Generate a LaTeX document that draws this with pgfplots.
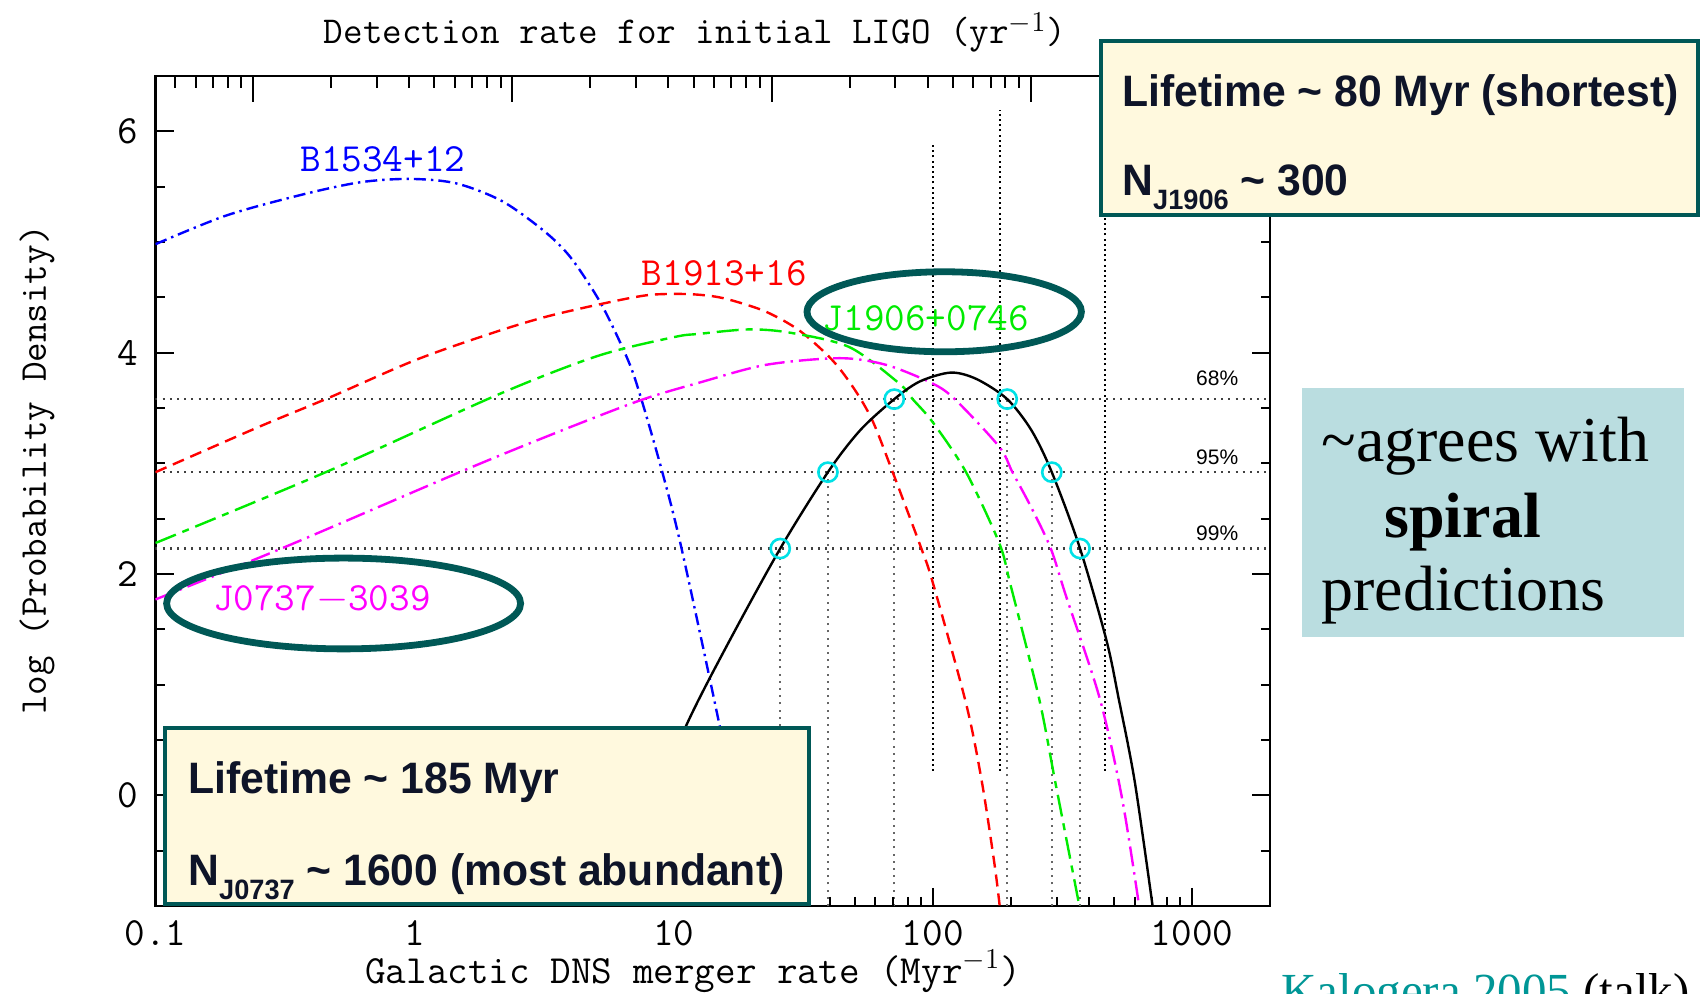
\documentclass[border=0pt]{standalone}
\usepackage{pgfplots}
\pgfplotsset{compat=1.18}
\usepackage{pgfplotstable}
\usepackage{fontspec}
\newfontfamily\arialfont[FakeStretch=0.97]{Liberation Sans}
\newfontfamily\plainsans{Liberation Sans}
\newfontfamily\timesfont{Liberation Serif}

\definecolor{edgeteal}{RGB}{0,88,86}
\definecolor{notebox}{RGB}{255,249,222}
\definecolor{notetext}{RGB}{14,20,40}
\definecolor{agreebox}{RGB}{186,221,224}
\definecolor{ringcyan}{RGB}{0,225,230}
\definecolor{pgreen}{RGB}{0,235,0}
\definecolor{pmag}{RGB}{255,0,255}
\definecolor{citeteal}{RGB}{0,150,150}

% log(probability density) against Galactic merger rate (Myr^-1)
\pgfplotstableread{
x y
0.1 4.98
0.188 5.24
0.371 5.43
0.618 5.54
0.959 5.57
1.445 5.53
2.173 5.37
3.155 5.10
4.0 4.86
5.248 4.44
6.668 3.93
7.499 3.58
9.036 2.92
10.72 2.23
15.0 0.64
16.6 0.07
19.28 -1.0
}\pulsarB

\pgfplotstableread{
x y
0.1 2.92
0.251 3.33
0.4645 3.59
1.0 3.93
1.95 4.17
3.162 4.32
5.248 4.44
7.943 4.52
11.09 4.53
14.13 4.51
16.9 4.47
22.7 4.37
30.55 4.20
41.02 3.93
50.12 3.66
58.61 3.38
69.98 2.92
89.95 2.24
100 1.92
134.3 0.83
154.5 0.125
173.0 -0.625
181.1 -1.0
}\pulsarR

\pgfplotstableread{
x y
0.1 2.28
0.4645 2.93
2.094 3.62
5.082 3.97
10 4.14
12.56 4.17
19.5 4.21
28.18 4.18
47.64 4.05
74.3 3.72
83.56 3.58
100 3.37
134.3 2.92
180.3 2.28
199.5 1.90
257.0 0.875
296.5 0.125
361.4 -0.91
367.3 -1.0
}\pulsarG

\pgfplotstableread{
x y
0.1 1.77
0.3133 2.24
1.528 2.93
3.548 3.28
7.447 3.57
12.59 3.73
22.7 3.89
43.65 3.95
65.92 3.89
100 3.72
122.7 3.57
180.3 3.15
202.8 2.92
239.9 2.60
285.1 2.23
326.6 1.80
440.6 0.875
537.0 -0.025
625.2 -1.0
}\pulsarM

\pgfplotstableread{
x y
5.888 -1.0
7.943 -0.2
11.22 0.64
15.85 1.33
25.76 2.23
39.36 2.92
52.48 3.30
70.96 3.58
89.13 3.74
117.5 3.82
147.9 3.76
193.6 3.58
239.9 3.30
287.7 2.92
369.8 2.23
467.7 1.40
521.2 0.875
601.2 0.125
704.7 -1.0
}\combined

\newcommand\pgfont{\ttfamily\fontsize{20}{20}\selectfont}

% common frame geometry
\pgfplotsset{frame/.style={
  at={(77.75pt,44pt)}, anchor=south west,
  width=557.25pt, height=415pt, scale only axis,
  ymin=-1, ymax=6.5,
  tick align=inside,
  every tick/.style={black, line width=1pt},
  axis line style={line width=1.2pt}}}

\begin{document}
\begin{tikzpicture}
\useasboundingbox (0,0) rectangle (852.5pt,497pt);

% frame with the merger-rate decades (in log10 units) and the density scale
\begin{axis}[frame,
  xmin=-1, xmax=3.30103,
  xtick={-1,0,1,2,3},
  xticklabels={0.1,1,10,100,1000},
  ytick={0,2,4,6}, yticklabels={0,2,4,6},
  minor ytick={-0.5,0.5,1,1.5,2.5,3,3.5,4.5,5,5.5},
  xtick pos=left, ytick pos=both, yticklabel pos=left,
  major tick length=9pt, minor tick length=4.5pt,
  ticklabel style={font=\pgfont},
  xticklabel style={yshift=-4pt},
  yticklabel style={xshift=-5pt},
]
\addplot[draw=none] coordinates {(0,0) (1,1)};
\end{axis}

\begin{axis}[frame,
  xmode=log, xmin=0.1, xmax=2000,
  xtick=\empty, ytick=\empty,
  clip marker paths=true,
]
% confidence levels
\addplot[black!75, line width=1.1pt, dash pattern=on 1pt off 2.6pt] coordinates {(0.1,3.58) (2000,3.58)};
\addplot[black!75, line width=1.1pt, dash pattern=on 1pt off 2.6pt] coordinates {(0.1,2.92) (2000,2.92)};
\addplot[black!75, line width=1.1pt, dash pattern=on 1pt off 2.6pt] coordinates {(0.1,2.23) (2000,2.23)};
\addplot[black!60, line width=1pt, dash pattern=on 1pt off 2.6pt] coordinates {(25.76,-1) (25.76,2.23)};
\addplot[black!60, line width=1pt, dash pattern=on 1pt off 2.6pt] coordinates {(39.36,-1) (39.36,2.92)};
\addplot[black!60, line width=1pt, dash pattern=on 1pt off 2.6pt] coordinates {(70.96,-1) (70.96,3.58)};
\addplot[black!60, line width=1pt, dash pattern=on 1pt off 2.6pt] coordinates {(193.6,-1) (193.6,3.58)};
\addplot[black!60, line width=1pt, dash pattern=on 1pt off 2.6pt] coordinates {(287.7,-1) (287.7,2.92)};
\addplot[black!60, line width=1pt, dash pattern=on 1pt off 2.6pt] coordinates {(369.8,-1) (369.8,2.23)};
% model rate markers
\addplot[black, line width=1pt, dash pattern=on 1pt off 1.6pt] coordinates {(100,0.22) (100,5.9)};
\addplot[black, line width=1pt, dash pattern=on 1pt off 1.6pt] coordinates {(181,0.22) (181,6.19)};
\addplot[black, line width=1pt, dash pattern=on 1pt off 1.6pt] coordinates {(460,0.22) (460,6.3)};

% merger-rate decades along the bottom edge
\addplot[only marks, mark=|, mark size=9pt, mark options={black, line width=1pt}]
  coordinates {(0.1,-1) (1,-1) (10,-1) (100,-1) (1000,-1)};
\addplot[only marks, mark=|, mark size=4.5pt, mark options={black, line width=1pt}]
  coordinates {(0.2,-1) (0.3,-1) (0.4,-1) (0.5,-1) (0.6,-1) (0.7,-1) (0.8,-1) (0.9,-1)
    (2,-1) (3,-1) (4,-1) (5,-1) (6,-1) (7,-1) (8,-1) (9,-1)
    (20,-1) (30,-1) (40,-1) (50,-1) (60,-1) (70,-1) (80,-1) (90,-1)
    (200,-1) (300,-1) (400,-1) (500,-1) (600,-1) (700,-1) (800,-1) (900,-1)};
% detection-rate decades along the top edge
\addplot[only marks, mark=|, mark size=13pt, mark options={black, line width=1pt}]
  coordinates {(0.2384,6.5) (2.384,6.5) (23.84,6.5) (238.4,6.5)};
\addplot[only marks, mark=|, mark size=6pt, mark options={black, line width=1pt}]
  coordinates {(0.1192,6.5) (0.1430,6.5) (0.1669,6.5) (0.1907,6.5) (0.2146,6.5)
    (0.4768,6.5) (0.7152,6.5) (0.9536,6.5) (1.192,6.5) (1.430,6.5) (1.669,6.5) (1.907,6.5) (2.146,6.5)
    (4.768,6.5) (7.152,6.5) (9.536,6.5) (11.92,6.5) (14.30,6.5) (16.69,6.5) (19.07,6.5) (21.46,6.5)
    (47.68,6.5) (71.52,6.5) (95.36,6.5) (119.2,6.5) (143.0,6.5) (166.9,6.5) (190.7,6.5) (214.6,6.5)
    (476.8,6.5) (715.2,6.5) (953.6,6.5) (1192,6.5) (1430,6.5) (1669,6.5) (1907,6.5)};

% individual pulsars
\addplot[blue, line width=1.2pt, smooth, dash pattern=on 6pt off 2.5pt on 1.2pt off 2.5pt] table {\pulsarB};
\addplot[red, line width=1.2pt, smooth, dash pattern=on 6pt off 3.5pt] table {\pulsarR};
\addplot[pgreen, line width=1.2pt, smooth, dash pattern=on 11pt off 3.5pt on 3.5pt off 3.5pt] table {\pulsarG};
\addplot[pmag, line width=1.2pt, smooth, dash pattern=on 10pt off 3pt on 1.2pt off 3pt] table {\pulsarM};
% combined
\addplot[black, line width=1.2pt, smooth] table {\combined};
\addplot[only marks, mark=o, mark size=4.8pt, ringcyan, line width=1.3pt]
  coordinates {(25.76,2.23) (39.36,2.92) (70.96,3.58) (193.6,3.58) (287.7,2.92) (369.8,2.23)};

\node[anchor=base, inner sep=0, text=blue, font=\pgfont] at (axis cs:0.755,5.64) {B1534+12};
\node[anchor=base, inner sep=0, text=red, font=\pgfont] at (axis cs:15.67,4.61) {B1913+16};
\node[anchor=base, inner sep=0, text=pgreen, font=\pgfont] at (axis cs:94,4.20) {J1906+0746};
\node[anchor=base, inner sep=0, text=pmag, font=\pgfont] at (axis cs:0.4385,1.67) {J0737$-$3039};

\node[anchor=base east, inner sep=0, font=\plainsans\fontsize{10.5}{10.5}\selectfont] at (axis cs:1514,3.70) {68\%};
\node[anchor=base east, inner sep=0, font=\plainsans\fontsize{10.5}{10.5}\selectfont] at (axis cs:1514,2.99) {95\%};
\node[anchor=base east, inner sep=0, font=\plainsans\fontsize{10.5}{10.5}\selectfont] at (axis cs:1514,2.30) {99\%};
\end{axis}

% axis titles
\node[anchor=base, inner sep=0, font=\ttfamily\fontsize{19}{19}\selectfont] at (347.5pt,475pt) {Detection rate for initial LIGO (yr$^{-1}$)};
\node[anchor=base, inner sep=0, font=\ttfamily\fontsize{20}{20}\selectfont] at (346.5pt,5pt) {Galactic DNS merger rate (Myr$^{-1}$)};
\node[rotate=90, anchor=center, inner sep=0, font=\ttfamily\fontsize{19}{19}\selectfont] at (18.5pt,262pt) {log (Probability Density)};

% highlighted pulsars
\draw[edgeteal, line width=3.4pt] (472.1pt,341.1pt) ellipse [x radius=68.6pt, y radius=20pt];
\draw[edgeteal, line width=3.4pt] (171.8pt,195.25pt) ellipse [x radius=88.5pt, y radius=22.7pt];

% notes
\filldraw[fill=notebox, draw=edgeteal, line width=2pt] (550.5pt,389.25pt) rectangle (849pt,476.5pt);
\node[anchor=base west, inner sep=0, text=notetext, font=\arialfont\bfseries\fontsize{22}{22}\selectfont] at (561pt,443.7pt) {Lifetime \textasciitilde{} 80 Myr (shortest)};
\node[anchor=base west, inner sep=0, text=notetext, font=\arialfont\bfseries\fontsize{22}{22}\selectfont] at (561pt,399pt) {N\raisebox{-0.3em}{\fontsize{14}{14}\selectfont J1906} \textasciitilde{} 300};

\filldraw[fill=notebox, draw=edgeteal, line width=2pt] (82.5pt,45pt) rectangle (404.5pt,133pt);
\node[anchor=base west, inner sep=0, text=notetext, font=\arialfont\bfseries\fontsize{22}{22}\selectfont] at (94pt,100pt) {Lifetime \textasciitilde{} 185 Myr};
\node[anchor=base west, inner sep=0, text=notetext, font=\arialfont\bfseries\fontsize{22}{22}\selectfont] at (94pt,54pt) {N\raisebox{-0.3em}{\fontsize{14}{14}\selectfont J0737} \textasciitilde{} 1600 (most abundant)};

\fill[agreebox] (650.8pt,178.5pt) rectangle (842.2pt,303pt);
\node[anchor=base west, inner sep=0, font=\timesfont\fontsize{32}{32}\selectfont] at (660.5pt,266pt) {\textasciitilde agrees with};
\node[anchor=base west, inner sep=0, font=\timesfont\bfseries\fontsize{32}{32}\selectfont] at (692pt,228pt) {spiral};
\node[anchor=base west, inner sep=0, font=\timesfont\fontsize{32}{32}\selectfont] at (660.5pt,191.5pt) {predictions};

\node[anchor=base west, inner sep=0, font=\timesfont\fontsize{24.5}{24.5}\selectfont] at (640.5pt,-6.6pt) {\textcolor{citeteal}{Kalogera 2005} (talk)};
\end{tikzpicture}
\end{document}
